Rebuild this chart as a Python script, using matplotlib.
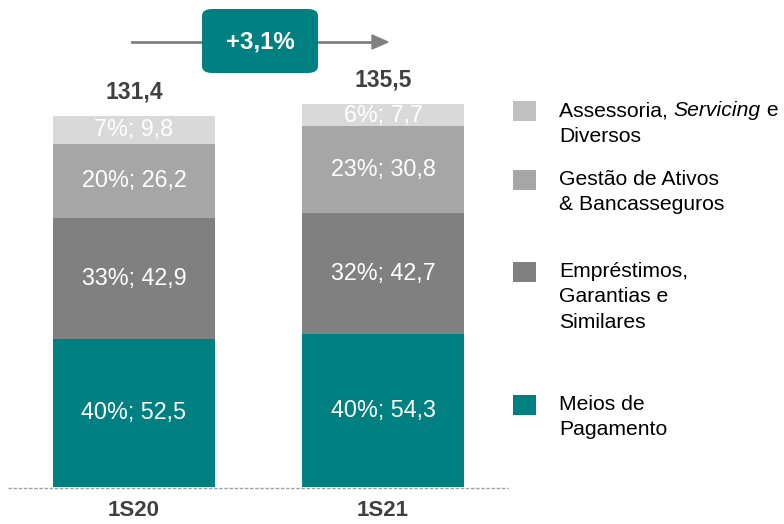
import matplotlib.pyplot as plt
from matplotlib.patches import FancyBboxPatch, Rectangle

plt.rcParams['font.family'] = ['Liberation Sans', 'DejaVu Sans']

periods = ['1S20', '1S21']
totals = ['131,4', '135,5']
segments = ['Meios de Pagamento', 'Empréstimos, Garantias e Similares',
            'Gestão de Ativos & Bancasseguros', 'Assessoria, Servicing e Diversos']
values = {
    '1S20': [52.5, 42.9, 26.2, 9.8],
    '1S21': [54.3, 42.7, 30.8, 7.7],
}
shares = {
    '1S20': [40, 33, 20, 7],
    '1S21': [40, 32, 23, 6],
}
growth = '+3,1%'

colors = ['#008080', '#808080', '#A6A6A6', '#D9D9D9']
legend_colors = ['#008080', '#808080', '#A6A6A6', '#C0C0C0']
W, H = 784, 524
LEG_FS = 15.2


def fmt(v):
    return f'{v:.1f}'.replace('.', ',')


fig = plt.figure(figsize=(W / 100, H / 100), dpi=100)
ax = fig.add_axes((8 / W, 37 / H, 500 / W, 487 / H))
ax.set_xlim(-0.506, 1.502)
ax.set_ylim(0, 172.5)
for s in ax.spines.values():
    s.set_visible(False)
ax.set_yticks([])
ax.set_xticks([])
ax.axhline(-0.3, color='#A0A0A0', lw=1, ls=(0, (2.5, 1.2)), zorder=3,
           clip_on=False)

for i, p in enumerate(periods):
    bottom = 0
    for j, v in enumerate(values[p]):
        ax.bar(i, v, bottom=bottom, width=0.65, color=colors[j], lw=0)
        ax.text(i, bottom + v / 2, f'{shares[p][j]}%; {fmt(v)}', ha='center',
                va='center', color='white', fontsize=16.8)
        bottom += v
    ax.text(i, bottom + 8.5, totals[i], ha='center', va='center',
            color='#404040', fontsize=16.5, fontweight='bold')
    ax.text(i, -4.6, p, ha='center', va='top', color='#404040',
            fontsize=16, fontweight='bold')


def fx(px):
    return px / W


def fy(py):
    return 1 - py / H


# growth arrow with box
fig.add_artist(plt.Line2D([fx(132), fx(375)], [fy(42), fy(42)],
                          color='#808080', lw=2, zorder=1))
fig.patches.append(plt.Polygon([(fx(372), fy(35)), (fx(388), fy(42)), (fx(372), fy(49))],
                               closed=True, color='#808080', transform=fig.transFigure,
                               zorder=1))
box = FancyBboxPatch((fx(202), fy(73)), fx(116), 64 / H,
                     boxstyle='round,pad=0,rounding_size=0.013',
                     transform=fig.transFigure, color='#008080', lw=0, zorder=2)
fig.patches.append(box)
fig.text(fx(260), fy(42), growth, ha='center', va='center', color='white',
         fontsize=17.3, fontweight='bold', zorder=3)

# legend
entries = [
    (111, legend_colors[3], None),
    (180, legend_colors[2], 'Gestão de Ativos\n& Bancasseguros'),
    (272, legend_colors[1], 'Empréstimos,\nGarantias e\nSimilares'),
    (405, legend_colors[0], 'Meios de\nPagamento'),
]
for y, c, label in entries:
    fig.patches.append(Rectangle((fx(513), fy(y + 10)), fx(23), 20 / H,
                                 color=c, lw=0, transform=fig.transFigure))
    if label:
        fig.text(fx(559), fy(y - 10), label, ha='left', va='top', fontsize=LEG_FS,
                 color='black', linespacing=1.42)

t1 = fig.text(fx(559), fy(111), 'Assessoria, ', ha='left', va='center',
              fontsize=LEG_FS)
t2 = fig.text(0, 0, 'Servicing', fontsize=LEG_FS, style='italic', ha='left',
              va='center')
fig.canvas.draw()
r = fig.canvas.get_renderer()
bb = t1.get_window_extent(r)
t2.set_position((bb.x1 / W, fy(111)))
bb2 = t2.get_window_extent(r)
fig.text(bb2.x1 / W, fy(111), ' e', ha='left', va='center', fontsize=LEG_FS)
fig.text(fx(559), fy(136), 'Diversos', ha='left', va='center', fontsize=LEG_FS)

fig.savefig('out.png', dpi=100)
